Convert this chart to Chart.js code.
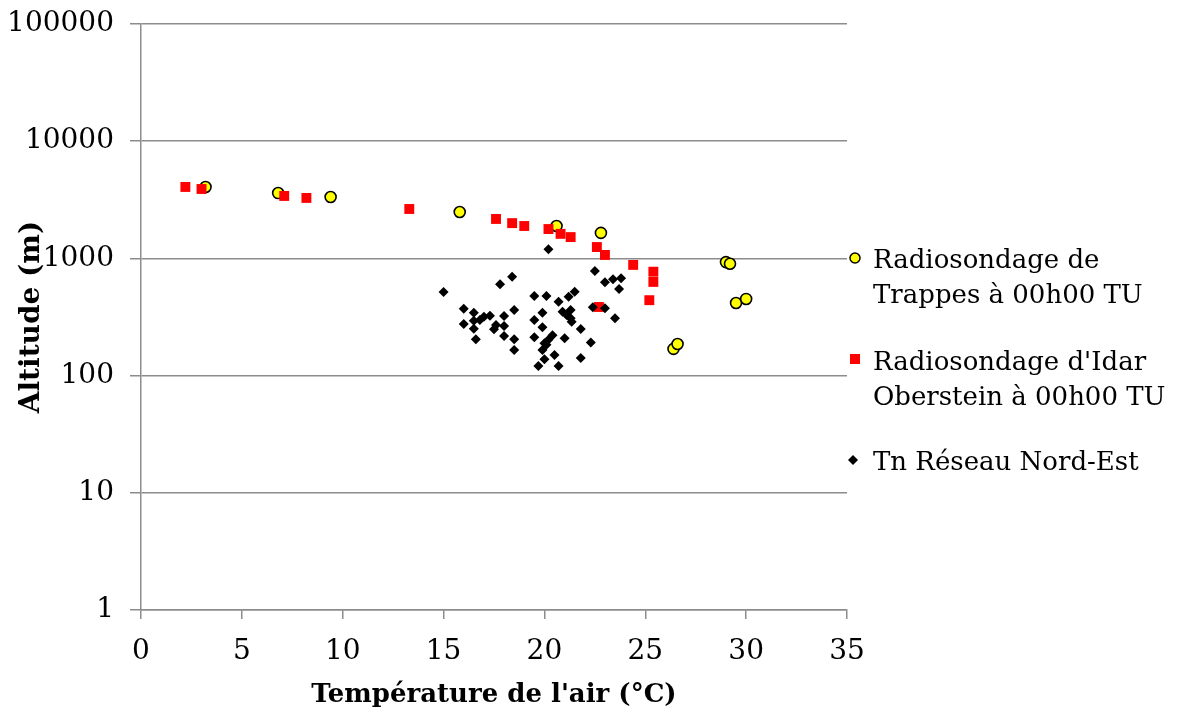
<!DOCTYPE html>
<html>
<head>
<meta charset="utf-8">
<script src="https://cdn.jsdelivr.net/npm/chart.js@4"></script>
<style>
  body { margin: 0; background: #fff; }
</style>
</head>
<body>
<canvas id="chart" width="1177" height="711"></canvas>
<script>
const yTicks = [1, 10, 100, 1000, 10000, 100000];

const labels = [
    ['Radiosondage de', 'Trappes à 00h00 TU'],
    ["Radiosondage d'Idar", 'Oberstein à 00h00 TU'],
    ['Tn Réseau Nord-Est']
];

const trappesT   = [3.2, 6.8, 9.4, 15.8, 20.6, 22.8, 29.0, 29.2, 29.5, 30.0, 26.4, 26.6];
const trappesAlt = [4070, 3610, 3340, 2490, 1890, 1650, 930, 900, 416, 451, 169, 186];

const idarT   = [2.2, 3.0, 7.1, 8.2, 13.3, 17.6, 18.4, 19.0, 20.2, 20.8, 21.3, 22.6, 23.0, 24.4, 25.4, 25.4, 25.2, 22.7];
const idarAlt = [4070, 3910, 3410, 3280, 2640, 2170, 2000, 1890, 1780, 1620, 1520, 1250, 1070, 880, 770, 630, 440, 385];

const tnT = [15.0, 16.0, 16.0, 16.5, 16.5, 16.5, 16.6, 16.8, 17.0, 17.3, 17.5, 17.6, 17.8, 18.0, 18.0, 18.0,
             18.4, 18.5, 18.5, 18.5, 19.5, 19.5, 19.5, 19.9, 19.9, 20.1, 20.0, 19.9, 20.1, 20.2, 20.4,
             20.0, 19.7, 20.5, 20.7, 20.7, 21.0, 20.9, 21.1, 21.3, 21.35, 21.2, 21.5, 21.3, 21.8, 21.8,
             22.3, 22.5, 23.0, 23.4, 23.8, 23.7, 22.4, 23.0, 23.5, 20.2];
const tnAlt = [517, 372, 275, 344, 294, 251, 204, 298, 318, 324, 248, 270, 601, 323, 265, 218,
               698, 363, 204, 165, 478, 298, 212, 344, 258, 478, 189, 165, 183, 202, 221,
               138, 121, 150, 121, 427, 208, 351, 329, 308, 288, 471, 520, 363, 250, 141,
               192, 781, 625, 664, 677, 548, 383, 375, 308, 1197];

const toPoints = (xs, ys) => xs.map((x, i) => ({ x: x, y: ys[i] }));

// legende a droite, texte sur deux lignes comme l'original
const sideLegend = {
    id: 'sideLegend',
    afterDraw(chart) {
        const ctx = chart.ctx;
        ctx.save();
        ctx.font = '26px "DejaVu Serif"';
        ctx.fillStyle = '#000';
        ctx.textBaseline = 'alphabetic';
        const rows = [[268, 303], [370, 405], [470]];
        rows.forEach((r, i) => {
            labels[i].forEach((t, j) => ctx.fillText(t, 873, r[j]));
        });
        // marqueurs
        ctx.beginPath();
        ctx.arc(855, 258, 5, 0, Math.PI * 2);
        ctx.fillStyle = '#ffff00';
        ctx.fill();
        ctx.lineWidth = 1.5;
        ctx.strokeStyle = '#000';
        ctx.stroke();
        ctx.fillStyle = '#ff0000';
        ctx.fillRect(850, 354, 10, 10);
        ctx.fillStyle = '#000';
        ctx.beginPath();
        ctx.moveTo(853, 455); ctx.lineTo(858, 460); ctx.lineTo(853, 465); ctx.lineTo(848, 460);
        ctx.closePath();
        ctx.fill();
        ctx.restore();
    }
};

new Chart(document.getElementById('chart'), {
    type: 'scatter',
    data: {
        datasets: [{
            label: labels[0].join(' '),
            data: toPoints(trappesT, trappesAlt),
            pointStyle: 'circle',
            pointRadius: 5.5,
            backgroundColor: '#ffff00',
            borderColor: '#000',
            borderWidth: 1.6,
            order: 3
        }, {
            label: labels[1].join(' '),
            data: toPoints(idarT, idarAlt),
            pointStyle: 'rect',
            pointRadius: 7,
            backgroundColor: '#ff0000',
            borderColor: '#ff0000',
            borderWidth: 0,
            order: 2
        }, {
            label: labels[2][0],
            data: toPoints(tnT, tnAlt),
            pointStyle: 'rectRot',
            pointRadius: 5,
            backgroundColor: '#000',
            borderColor: '#000',
            borderWidth: 0,
            order: 1
        }]
    },
    options: {
        responsive: false,
        animation: false,
        layout: { padding: { left: 0, right: 330, top: 24, bottom: 0 } },
        plugins: {
            legend: { display: false },
            tooltip: { enabled: false }
        },
        scales: {
            x: {
                type: 'linear',
                min: 0,
                max: 35,
                ticks: {
                    stepSize: 5,
                    padding: 16,
                    color: '#000',
                    font: { family: 'DejaVu Serif', size: 28 }
                },
                grid: {
                    drawOnChartArea: false,
                    color: '#8c8c8c',
                    lineWidth: 1.5,
                    tickLength: 9
                },
                border: { color: '#8c8c8c', width: 1.5 },
                title: {
                    display: true,
                    text: "Température de l'air (°C)",
                    color: '#000',
                    font: { family: 'DejaVu Serif', size: 26, weight: 'bold' },
                    padding: { top: 0, bottom: 0 }
                },
                afterFit(scale) { scale.height = 101; }
            },
            y: {
                type: 'logarithmic',
                min: 1,
                max: 100000,
                afterBuildTicks(scale) {
                    scale.ticks = yTicks.map(v => ({ value: v }));
                },
                ticks: {
                    padding: 16,
                    color: '#000',
                    font: { family: 'DejaVu Serif', size: 28 },
                    callback: v => String(v)
                },
                grid: {
                    color: '#8c8c8c',
                    lineWidth: 1.5,
                    tickLength: 11
                },
                border: { color: '#8c8c8c', width: 1.5 },
                title: {
                    display: true,
                    text: 'Altitude (m)',
                    color: '#000',
                    font: { family: 'DejaVu Serif', size: 28, weight: 'bold' },
                    padding: { top: 15, bottom: 0 }
                },
                afterFit(scale) {
                    scale.width = 141;
                    scale.paddingTop = 0;
                    scale.paddingBottom = 0;
                }
            }
        }
    },
    plugins: [sideLegend]
});
</script>
</body>
</html>
